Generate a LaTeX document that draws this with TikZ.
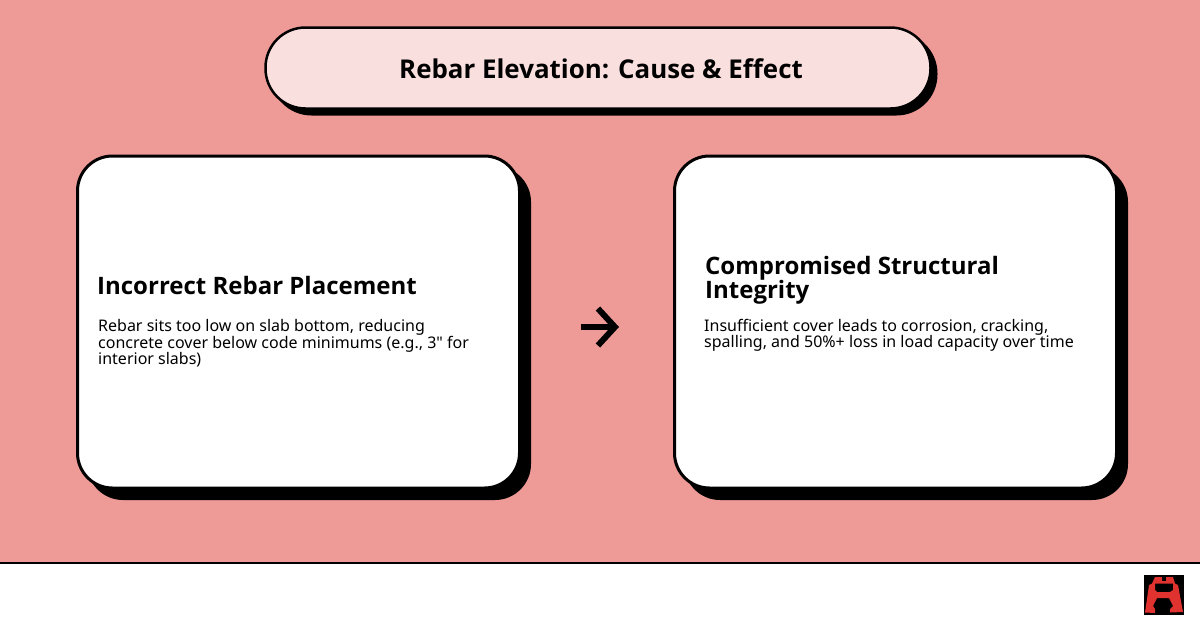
\documentclass[tikz,border=0pt]{standalone}
\usepackage{fontspec}
\newfontfamily\bodyfont{Noto Sans}
\newfontfamily\headfont{Open Sans}[BoldFont={Open Sans Bold}]
\usetikzlibrary{arrows.meta}
\definecolor{bgpink}{HTML}{EE9B98}
\definecolor{pillpink}{HTML}{F9E0DF}
\definecolor{logored}{HTML}{E0322E}
\begin{document}
\begin{tikzpicture}[
        x=1pt, y=-1pt,
        pillbox/.style={draw=black, fill=pillpink, line width=2.5pt, rounded corners=40pt, minimum width=665pt, minimum height=81pt, inner sep=0pt},
        pillshadow/.style={fill=black, rounded corners=41pt, minimum width=667pt, minimum height=83pt, inner sep=0pt},
        cardbox/.style={draw=black, fill=white, line width=3pt, rounded corners=35pt, minimum width=442pt, minimum height=332pt, inner sep=0pt},
        cardshadow/.style={fill=black, rounded corners=36pt, minimum width=444pt, minimum height=334pt, inner sep=0pt},
        titletext/.style={font=\fontsize{25.9}{26}\selectfont\headfont\bfseries, inner sep=0pt},
        headtext/.style={font=\fontsize{24}{24}\selectfont\headfont\bfseries, align=left, anchor=north west, inner sep=0pt},
        bodytext/.style={font=\fontsize{16}{16}\selectfont\bodyfont, align=left, anchor=north west, inner sep=0pt},
        arrowline/.style={line width=6pt, -{Straight Barb[length=17pt, width=37pt, line width=6pt]}}
    ]
        \useasboundingbox (0,0) rectangle (1200,630);
        \fill[bgpink] (0,0) rectangle (1200,563);
        \draw[black, line width=2pt] (0,563) -- (1200,563);

        \node[pillshadow] (pill_s) at (604,74) {};
        \node[pillbox] (pill) at (598,68) {};
        \node[titletext] (pill_t) at (601,69) {Rebar Elevation: Cause \& Effect};

        \node[cardshadow] (cause_s) at (309,333) {};
        \node[cardshadow] (effect_s) at (906,333) {};
        \node[cardbox] (cause) at (298.5,322) {};
        \node[cardbox] (effect) at (895.5,322) {};

        \node[headtext] (cause_h) at (97,276) {Incorrect Rebar Placement};
        \node[bodytext] (cause_b) at (98,319) {Rebar sits too low on slab bottom, reducing\\concrete cover below code minimums (e.g., 3" for\\interior slabs)};
        \node[headtext] (effect_h) at (705,256) {Compromised Structural\\Integrity};
        \node[bodytext] (effect_b) at (704,319) {Insufficient cover leads to corrosion, cracking,\\spalling, and 50\%+ loss in load capacity over time};

        \coordinate (arrow_a) at (581,327);
        \coordinate (arrow_b) at (619,327);
        \draw[arrowline] (arrow_a) -- (arrow_b);

        % logo
        \node[fill=black, minimum size=39.5pt, inner sep=0pt] (logo) at (1163.8,594.8) {};
        \fill[logored, even odd rule] (1155,577) -- (1162,577) -- (1162,581) -- (1166,581) -- (1166,577) -- (1173,577) -- (1175,583.5) -- (1178,585) -- (1183,612) -- (1170,612.5) -- (1170,609) -- (1173,606) -- (1169,598) -- (1157,598) -- (1153,606) -- (1155,609) -- (1155,613) -- (1145,612.5) -- (1149,585) -- (1152,583.5) -- cycle
            (1155,583.5) -- (1173,583.5) -- (1173,590) -- (1170,592) -- (1157,592) -- (1155,590) -- cycle;
    \end{tikzpicture}
\end{document}
